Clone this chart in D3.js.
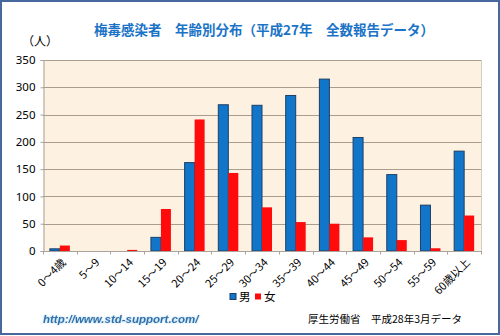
<!DOCTYPE html>
<html>
<head>
<meta charset="utf-8">
<script src="https://cdn.jsdelivr.net/npm/d3@7/dist/d3.min.js"></script>
<style>
  html, body { margin: 0; padding: 0; background: #fff; }
  svg { display: block; }
  text { font-family: "Noto Sans CJK JP", "Noto Sans", sans-serif; }
</style>
</head>
<body>
<svg id="chart" width="500" height="336"></svg>
<script>
// Age groups and reported cases by sex (2015 full report data)
const categories = ["0～4歳", "5～9", "10～14", "15～19", "20～24", "25～29", "30～34",
                    "35～39", "40～44", "45～49", "50～54", "55～59", "60歳以上"];
const male   = [4, 0, 0, 25, 162, 268, 267, 285, 315, 208, 140, 84, 183];
const female = [10, 0, 2, 77, 241, 143, 80, 53, 50, 25, 20, 5, 65];
const yTicks = [0, 50, 100, 150, 200, 250, 300, 350];
const seriesNames = ["男", "女"];
const seriesColors = ["#1176c9", "#ff0b0b"];

const svg = d3.select("#chart");
const W = 500, H = 336;

// outer frame
svg.append("rect").attr("x", 1).attr("y", 1).attr("width", W - 2).attr("height", H - 3)
  .attr("fill", "#fff").attr("stroke", "#46689c").attr("stroke-width", 2);

const plot = { left: 43, right: 481, top: 60, bottom: 251 };

const x = d3.scaleBand().domain(categories).range([plot.left, plot.right]).paddingInner(0).paddingOuter(0);
const y = d3.scaleLinear().domain([0, 350]).range([plot.bottom, plot.top]);

// plot background
svg.append("rect").attr("x", plot.left).attr("y", plot.top)
  .attr("width", plot.right - plot.left).attr("height", plot.bottom - plot.top)
  .attr("fill", "#fdf1e1");

// gridlines
svg.append("g").selectAll("line").data(yTicks.filter(d => d > 0)).join("line")
  .attr("x1", plot.left).attr("x2", plot.right)
  .attr("y1", d => Math.round(y(d)) + 0.5).attr("y2", d => Math.round(y(d)) + 0.5)
  .attr("stroke", "#aa9d8f").attr("stroke-width", 1);

// right edge of plot
svg.append("line").attr("x1", plot.right + 0.5).attr("x2", plot.right + 0.5)
  .attr("y1", plot.top).attr("y2", plot.bottom).attr("stroke", "#d4cdc4");

// bars
const barW = 10;
const groups = svg.append("g").selectAll("g").data(categories).join("g")
  .attr("transform", d => `translate(${x(d) + x.bandwidth() / 2 - barW},0)`);

groups.append("rect")
  .attr("x", 0).attr("width", barW)
  .attr("y", (d, i) => y(male[i])).attr("height", (d, i) => plot.bottom - y(male[i]))
  .attr("fill", seriesColors[0])
  .attr("stroke", (d, i) => male[i] > 0 ? "#1d3f66" : "none").attr("stroke-width", 1);

groups.append("rect")
  .attr("x", barW).attr("width", barW)
  .attr("y", (d, i) => y(female[i])).attr("height", (d, i) => plot.bottom - y(female[i]))
  .attr("fill", seriesColors[1]);

// y axis
const yAxis = d3.axisLeft(y).tickValues(yTicks).tickSize(3).tickPadding(5);
const gy = svg.append("g").attr("transform", `translate(${plot.left + 0.5},0)`).call(yAxis);
gy.select(".domain").attr("stroke", "#a9a39b");
gy.selectAll(".tick line").attr("stroke", "#a9a39b");
gy.selectAll(".tick text").attr("font-size", 11.5).attr("fill", "#000")
  .style("font-family", "'Noto Sans', sans-serif");

// x axis: ticks at category boundaries
const gx = svg.append("g").attr("transform", `translate(0,${plot.bottom + 0.5})`);
gx.append("line").attr("x1", plot.left).attr("x2", plot.right + 1)
  .attr("stroke", "#a9a39b");
gx.selectAll("line.tk").data(d3.range(categories.length + 1)).join("line").attr("class", "tk")
  .attr("x1", i => Math.round(plot.left + i * x.step()) + 0.5)
  .attr("x2", i => Math.round(plot.left + i * x.step()) + 0.5)
  .attr("y1", 0).attr("y2", 3).attr("stroke", "#a9a39b");
gx.selectAll("text").data(categories).join("text")
  .attr("transform", d => `translate(${x(d) + x.bandwidth() / 2 + 4},${9}) rotate(-45)`)
  .attr("text-anchor", "end").attr("dy", "0.35em")
  .attr("font-size", 11).attr("fill", "#000")
  .text(d => d);

// title
svg.append("text").attr("x", 264).attr("y", 35).attr("text-anchor", "middle")
  .attr("font-size", 13.5).attr("font-weight", "bold").attr("fill", "#1a73c6")
  .text("梅毒感染者　年齢別分布（平成27年　全数報告データ）");

// unit label
svg.append("text").attr("x", 22).attr("y", 46).attr("font-size", 12).attr("fill", "#000")
  .text("（人）");

// legend
const legend = svg.append("g").attr("transform", "translate(230,297)");
seriesNames.forEach((name, i) => {
  const g = legend.append("g").attr("transform", `translate(${i * 25},0)`);
  g.append("rect").attr("x", 0).attr("y", -3.5).attr("width", 6).attr("height", 6)
    .attr("fill", seriesColors[i]).attr("stroke", i === 0 ? "#1d3f66" : "none");
  g.append("text").attr("x", 9).attr("y", 0).attr("dy", "0.35em")
    .attr("font-size", 11.5).attr("fill", "#000").text(name);
});

// footer
const defs = svg.append("defs");
const glow = defs.append("filter").attr("id", "glow").attr("x", "-10%").attr("y", "-30%")
  .attr("width", "120%").attr("height", "160%");
glow.append("feGaussianBlur").attr("in", "SourceAlpha").attr("stdDeviation", 1.2).attr("result", "b");
glow.append("feFlood").attr("flood-color", "#9fd0ee").attr("result", "c");
glow.append("feComposite").attr("in", "c").attr("in2", "b").attr("operator", "in").attr("result", "s");
const fm = glow.append("feMerge");
fm.append("feMergeNode").attr("in", "s");
fm.append("feMergeNode").attr("in", "SourceGraphic");

svg.append("text").attr("x", 43).attr("y", 323)
  .attr("font-size", 11.5).attr("font-weight", "bold").attr("font-style", "italic")
  .attr("fill", "#2f6fa8").attr("filter", "url(#glow)")
  .style("font-family", "'Liberation Sans', Arial, sans-serif")
  .text("http://www.std-support.com/");

svg.append("text").attr("x", 308).attr("y", 323)
  .attr("font-size", 10.5).attr("fill", "#000")
  .text("厚生労働省　平成28年3月データ");
</script>
</body>
</html>
